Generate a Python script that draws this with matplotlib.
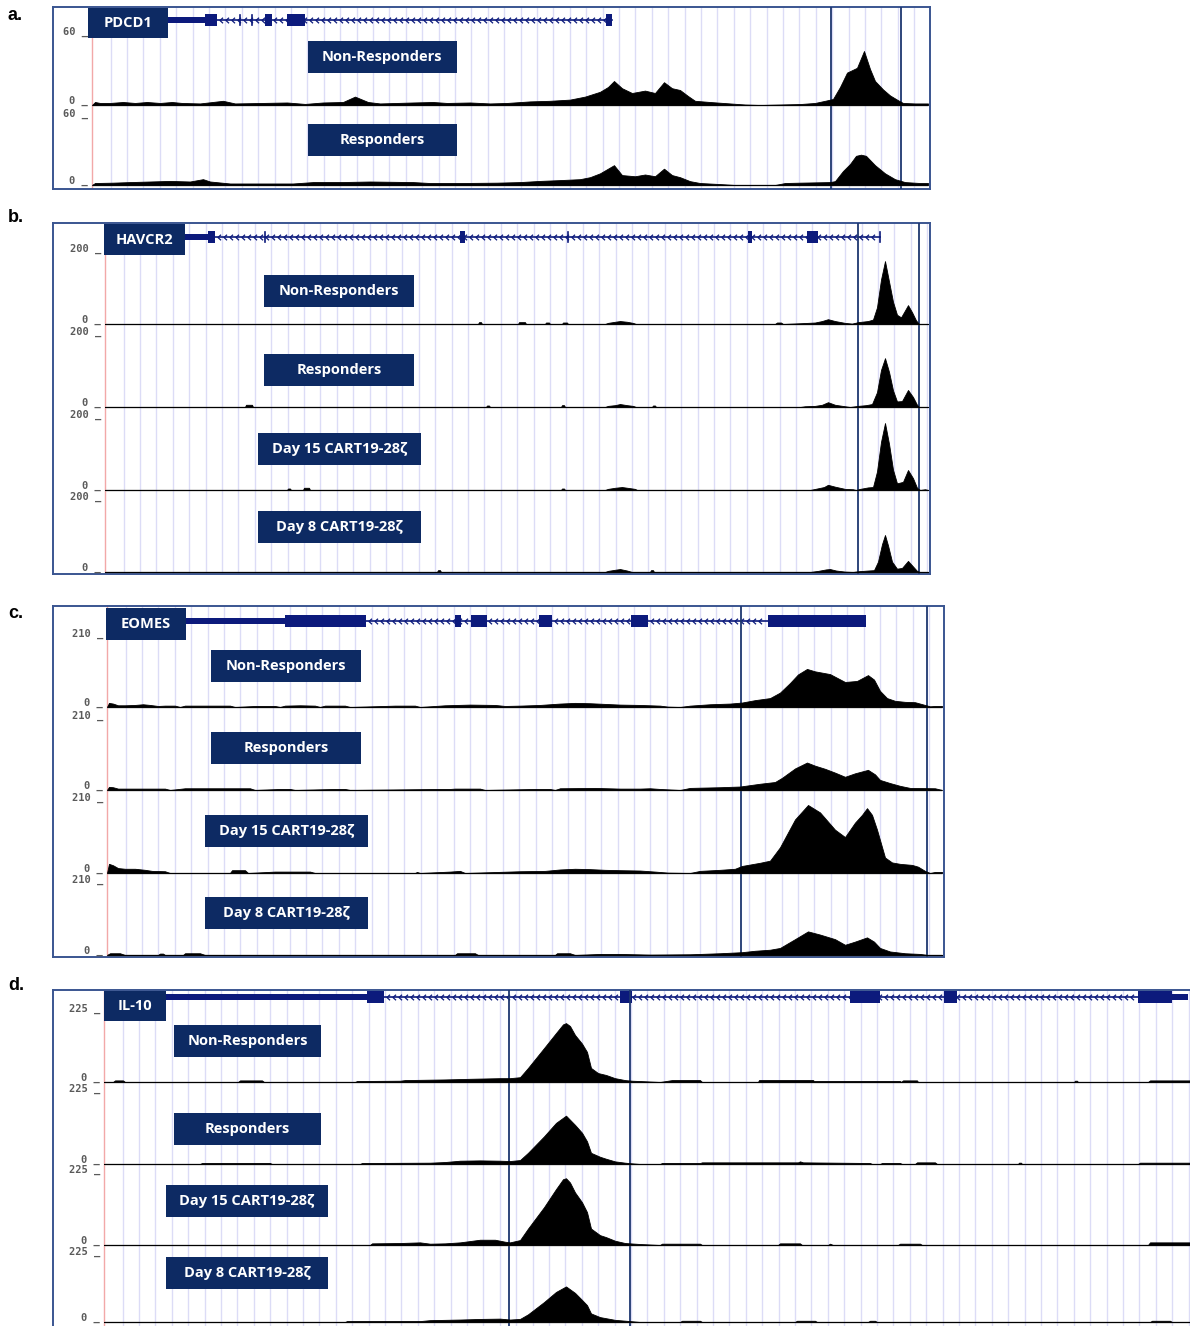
import numpy as np
import matplotlib
matplotlib.use("Agg")
import matplotlib.pyplot as plt
from matplotlib.patches import Rectangle
from matplotlib.path import Path

# ---------------------------------------------------------------------------
# Data: signal tracks (position in window bins, signal value), gene models
# ---------------------------------------------------------------------------
GROUPS_2 = ["Non-Responders", "Responders"]
GROUPS_4 = ["Non-Responders", "Responders", "Day 15 CART19-28ζ", "Day 8 CART19-28ζ"]

# --- a. PDCD1 -------------------------------------------------------------
PDCD1_WINDOW = (92, 928)
PDCD1_YMAX = 60
PDCD1_NR_POS = [92, 95, 100, 110, 123, 135, 147, 160, 172, 182, 200, 223, 235, 262, 287, 305,
                323, 343, 355, 368, 380, 413, 433, 447, 470, 490, 507, 530, 550, 570, 585, 600,
                608, 614, 622, 632, 645, 655, 664, 672, 680, 688, 695, 710, 730, 745, 760, 800,
                815, 825, 833, 840, 847, 857, 864, 870, 875, 883, 890, 898, 903, 915, 928]
PDCD1_NR_VAL = [0, 2.5, 1.7, 1.7, 2.5, 1.7, 2.5, 1.7, 2.5, 1.7, 1.3, 3.5, 1.3, 1.7, 2.1, 0.9,
                2.1, 2.5, 7, 2.5, 1.3, 2.1, 2.5, 1.7, 2.1, 1.3, 1.7, 3, 3.5, 4.5, 7, 11,
                15, 20, 14, 10, 12, 10, 19, 14, 12.5, 7.5, 3.5, 2.5, 1.3, 0.4, 0, 0.8,
                1.7, 3.5, 5, 15, 27, 31, 45, 30, 20, 13, 8, 4, 1.7, 1.3, 1.3]
PDCD1_R_POS = [92, 95, 113, 130, 150, 170, 190, 203, 210, 230, 260, 293, 313, 340, 370, 413,
               430, 460, 497, 520, 540, 560, 580, 590, 600, 614, 622, 635, 645, 655, 664, 672,
               680, 690, 700, 720, 735, 775, 785, 800, 830, 835, 843, 850, 856, 861, 866, 875,
               885, 895, 905, 920, 928]
PDCD1_R_VAL = [0, 1.7, 2, 2.5, 3, 3.5, 3, 5, 3, 1.3, 1.3, 1.3, 2.5, 2.5, 3, 2.5,
               1.7, 1.7, 2, 2.5, 3.5, 4.2, 5, 6.7, 10, 17, 8.5, 7.5, 9, 7.5, 14, 8.5,
               6.7, 3.3, 1.7, 0.8, 0, 0, 1.7, 2, 2.5, 3.3, 12, 18, 25, 26, 25, 17,
               10, 5, 2.5, 1.7, 1.7]
PDCD1_UTR = [(160, 205)]
PDCD1_EXONS = [(205, 217), (265, 272), (287, 305), (606, 612)]
PDCD1_INTRON = (217, 612)
PDCD1_TICKS = [240, 252]
PDCD1_MARKS = [831, 901]

# --- b. HAVCR2 ------------------------------------------------------------
HAVCR2_WINDOW = (105, 928)
HAVCR2_YMAX = 200
HAVCR2_NR_POS = [105, 478, 479, 481, 482, 518, 519, 525, 526, 545, 546, 549, 550, 562, 563, 567,
                 568, 605, 608, 615, 620, 627, 633, 636, 775, 777, 781, 783, 800, 815, 822, 828,
                 835, 845, 852, 858, 868, 873, 877, 881, 885, 889, 893, 897, 901, 904, 908, 912,
                 916, 919, 928]
HAVCR2_NR_VAL = [0, 0, 5, 5, 0, 0, 5, 5, 0, 0, 4, 4, 0, 0, 4, 4,
                 0, 0, 3, 6, 8, 6, 3, 0, 0, 4, 4, 0, 2, 4, 8, 13,
                 8, 3, 1, 5, 8, 12, 45, 120, 170, 115, 60, 25, 18, 32, 51, 32,
                 10, 0, 0]
HAVCR2_R_POS = [105, 245, 246, 252, 253, 486, 487, 489, 490, 561, 562, 564, 565, 605, 608, 615,
                620, 627, 633, 636, 652, 653, 655, 656, 800, 805, 815, 822, 828, 835, 845, 850,
                858, 866, 872, 877, 881, 885, 889, 893, 897, 902, 908, 913, 917, 919, 928]
HAVCR2_R_VAL = [0, 0, 6, 6, 0, 0, 4, 4, 0, 0, 5, 5, 0, 0, 3, 5,
                8, 5, 3, 0, 0, 4, 4, 0, 0, 2, 3, 6, 13, 6, 2, 0,
                3, 5, 8, 40, 100, 132, 95, 45, 15, 16, 46, 27, 6, 0, 0]
HAVCR2_D15_POS = [105, 287, 288, 290, 291, 303, 304, 309, 310, 561, 562, 564, 565, 605, 608, 615,
                  622, 630, 635, 637, 810, 817, 824, 828, 835, 845, 853, 856, 860, 868, 873, 877,
                  881, 885, 889, 893, 897, 903, 908, 913, 917, 920, 925, 928]
HAVCR2_D15_VAL = [0, 0, 4, 4, 0, 0, 6, 6, 0, 0, 4, 4, 0, 0, 3, 6,
                  8, 5, 3, 0, 0, 4, 8, 14, 9, 3, 2, 0, 3, 7, 8, 50,
                  130, 181, 125, 55, 18, 22, 54, 32, 6, 0, 2, 0]
HAVCR2_D8_POS = [105, 437, 438, 440, 441, 605, 608, 615, 620, 627, 632, 650, 651, 653, 654, 810,
                 818, 826, 830, 836, 845, 853, 858, 868, 874, 878, 882, 885, 888, 892, 897, 902,
                 908, 913, 917, 920, 928]
HAVCR2_D8_VAL = [0, 0, 5, 5, 0, 0, 3, 6, 8, 4, 0, 0, 5, 5, 0, 0,
                 3, 7, 8, 4, 1, 0, 2, 4, 5, 28, 75, 100, 72, 28, 9, 11,
                 30, 15, 3, 0, 0]
HAVCR2_UTR = [(185, 208)]
HAVCR2_EXONS = [(208, 215), (460, 465), (748, 752), (807, 818)]
HAVCR2_INTRON = (215, 880)
HAVCR2_TICKS = [265, 568, 880]
HAVCR2_MARKS = [858, 919]

# --- c. EOMES -------------------------------------------------------------
EOMES_WINDOW = (107, 942)
EOMES_YMAX = 210
EOMES_NR_POS = [107, 109, 113, 118, 125, 135, 143, 150, 158, 165, 175, 180, 185, 210, 230, 235,
                255, 275, 280, 285, 300, 315, 320, 325, 345, 350, 395, 415, 420, 445, 470, 495,
                505, 520, 540, 560, 575, 590, 605, 620, 640, 660, 668, 680, 690, 710, 730, 742,
                755, 770, 780, 790, 798, 807, 815, 830, 845, 857, 868, 874, 880, 887, 895, 905,
                915, 925, 930, 935, 942]
EOMES_NR_VAL = [0, 12, 10, 5, 5, 6, 8, 6, 3, 4, 4, 0, 4, 4, 4, 0,
                3, 3, 0, 4, 5, 4, 0, 4, 4, 0, 4, 4, 0, 5, 7, 6,
                3, 4, 6, 10, 12, 11, 9, 7, 6, 4, 1, 0, 4, 8, 10, 13,
                20, 26, 42, 70, 95, 111, 104, 96, 73, 76, 93, 80, 47, 26, 18, 15,
                14, 6, 2, 3, 3]
EOMES_R_POS = [107, 109, 113, 118, 165, 170, 185, 250, 255, 280, 290, 295, 335, 345, 350, 440,
               450, 455, 480, 485, 535, 550, 555, 560, 595, 620, 640, 650, 660, 680, 690, 720,
               740, 760, 775, 782, 795, 807, 815, 825, 835, 845, 855, 868, 875, 880, 890, 900,
               910, 935, 942]
EOMES_R_VAL = [0, 9, 8, 4, 4, 0, 5, 5, 0, 3, 3, 0, 3, 3, 0, 3,
               3, 4, 4, 0, 3, 3, 0, 5, 6, 4, 4, 5, 3, 0, 6, 8,
               10, 18, 23, 35, 62, 79, 70, 61, 50, 38, 48, 58, 45, 29, 20, 12,
               6, 5, 0]
EOMES_D15_POS = [107, 109, 113, 118, 125, 135, 145, 152, 165, 170, 230, 232, 245, 248, 275, 310,
                 315, 415, 417, 420, 450, 460, 465, 520, 545, 560, 575, 590, 605, 620, 640, 655,
                 668, 690, 700, 720, 735, 742, 760, 770, 780, 795, 808, 820, 835, 845, 855, 862,
                 867, 872, 877, 885, 892, 900, 912, 918, 925, 930, 935, 942]
EOMES_D15_VAL = [0, 26, 22, 14, 12, 12, 9, 6, 5, 0, 0, 8, 8, 0, 4, 4,
                 0, 0, 3, 0, 4, 6, 0, 5, 6, 10, 12, 11, 9, 8, 7, 4,
                 1, 0, 6, 9, 12, 20, 29, 35, 73, 152, 193, 172, 123, 102, 143, 165,
                 184, 165, 123, 44, 30, 26, 23, 18, 6, 0, 3, 3]
EOMES_D8_POS = [107, 110, 120, 125, 158, 160, 163, 165, 183, 185, 200, 205, 455, 457, 475, 478,
                555, 557, 570, 575, 600, 620, 650, 690, 720, 742, 755, 770, 780, 795, 808, 820,
                835, 845, 855, 867, 874, 880, 890, 905, 920, 928, 942]
EOMES_D8_VAL = [0, 5, 5, 0, 0, 4, 4, 0, 0, 5, 5, 0, 0, 5, 5, 0,
                0, 5, 5, 0, 3, 3, 1, 2, 5, 8, 12, 15, 20, 45, 67, 58,
                45, 29, 38, 50, 38, 20, 10, 5, 3, 0, 0]
EOMES_UTR = [(186, 285)]
EOMES_EXONS = [(285, 366), (455, 461), (471, 487), (539, 552), (631, 648), (768, 866)]
EOMES_INTRON = (366, 768)
EOMES_TICKS = []
EOMES_MARKS = [741, 927]

# --- d. IL-10 -------------------------------------------------------------
IL10_WINDOW = (104, 1190)
IL10_YMAX = 225
IL10_NR_POS = [104, 113, 115, 123, 125, 238, 240, 262, 264, 355, 357, 400, 405, 425, 445, 470,
               485, 500, 510, 520, 528, 544, 556, 563, 566, 570, 575, 582, 587, 591, 598, 606,
               615, 625, 632, 640, 660, 672, 700, 702, 758, 759, 813, 814, 900, 901, 903, 917,
               918, 1074, 1075, 1077, 1078, 1148, 1150, 1190]
IL10_NR_VAL = [0, 0, 5, 5, 0, 0, 5, 5, 0, 0, 3, 4, 6, 7, 8, 10,
               11, 12, 12, 15, 44, 106, 153, 180, 184, 175, 147, 120, 94, 44, 28, 22,
               12, 6, 4, 3, 0, 6, 6, 0, 0, 6, 6, 3, 3, 0, 5, 5,
               0, 0, 4, 4, 0, 0, 5, 5]
IL10_R_POS = [104, 200, 202, 270, 272, 360, 362, 430, 445, 460, 480, 500, 510, 520, 528, 544,
              556, 566, 575, 582, 587, 591, 600, 606, 615, 625, 632, 640, 660, 662, 700, 702,
              798, 800, 803, 870, 872, 880, 882, 900, 902, 915, 917, 935, 937, 1018, 1019, 1021,
              1022, 1138, 1140, 1190]
IL10_R_VAL = [0, 0, 3, 3, 0, 0, 3, 4, 6, 10, 11, 10, 9, 12, 34, 84,
              125, 147, 119, 95, 69, 34, 22, 16, 8, 4, 2, 0, 0, 3, 3, 5,
              5, 8, 5, 3, 0, 0, 3, 3, 0, 0, 5, 5, 0, 0, 4, 4,
              0, 0, 4, 4]
IL10_D15_POS = [104, 370, 372, 400, 420, 430, 445, 460, 470, 480, 495, 505, 510, 520, 528, 544,
                556, 563, 566, 570, 575, 582, 587, 591, 600, 606, 615, 625, 640, 660, 662, 700,
                702, 778, 780, 800, 802, 828, 830, 833, 898, 900, 920, 922, 1148, 1150, 1190]
IL10_D15_VAL = [0, 0, 5, 6, 8, 4, 5, 8, 12, 16, 16, 10, 8, 15, 50, 115,
                170, 200, 203, 190, 160, 130, 100, 50, 30, 24, 13, 6, 3, 0, 4, 4,
                0, 0, 5, 5, 0, 0, 4, 0, 0, 4, 4, 0, 0, 8, 8]
IL10_D8_POS = [104, 345, 347, 420, 430, 460, 480, 500, 510, 520, 528, 544, 556, 566, 575, 582,
               587, 591, 600, 615, 630, 640, 680, 682, 700, 702, 795, 797, 815, 817, 868, 870,
               875, 877, 1150, 1152, 1170, 1172, 1190]
IL10_D8_VAL = [0, 0, 3, 3, 6, 8, 10, 11, 8, 10, 25, 65, 98, 116, 95, 72,
               55, 28, 16, 7, 3, 0, 0, 4, 4, 0, 0, 4, 4, 0, 0, 4,
               4, 0, 0, 4, 4, 0, 0]
IL10_UTR = [(160, 367), (1172, 1188)]
IL10_EXONS = [(367, 384), (620, 632), (850, 880), (944, 957), (1138, 1172)]
IL10_INTRON = (384, 1138)
IL10_TICKS = []
IL10_MARKS = [509, 630]

# ---------------------------------------------------------------------------
# Styling
# ---------------------------------------------------------------------------
W, H, DPI = 1190, 1326, 100
NAVY = "#0d2a63"
GENE_BLUE = "#0c1a7c"
FRAME = "#3a5590"
MARK = "#1e3770"
GRID = "#dcdcf6"
PINK = "#f2a8a8"
LABEL_FONT = ["Open Sans", "DejaVu Sans"]
SCALE_COLOR = "#5a5a5a"

fig = plt.figure(figsize=(W / DPI, H / DPI), dpi=DPI)
fig.patch.set_facecolor("white")


def px_axes(left, top, right, bottom, **kw):
    return fig.add_axes([left / W, 1 - bottom / H, (right - left) / W, (bottom - top) / H], **kw)


chevron = Path([(0.55, 1.0), (-0.55, 0.0), (0.55, -1.0)],
               [Path.MOVETO, Path.LINETO, Path.LINETO])

panels = [
    dict(letter="a.", letter_y=16, gene="PDCD1", box=(53, 7, 930, 189), name_box=(88, 8, 168, 38),
         gene_y=20, window=PDCD1_WINDOW, ymax=PDCD1_YMAX,
         tracks=[(33, 105), (115, 185)],
         signals=[(PDCD1_NR_POS, PDCD1_NR_VAL), (PDCD1_R_POS, PDCD1_R_VAL)],
         groups=GROUPS_2, label_boxes=[(382, 57, 149), (382, 140, 149)],
         utr=PDCD1_UTR, exons=PDCD1_EXONS, intron=PDCD1_INTRON, ticks=PDCD1_TICKS,
         marks=PDCD1_MARKS, open_edges=False),
    dict(letter="b.", letter_y=218, gene="HAVCR2", box=(53, 223, 930, 574), name_box=(104, 224, 185, 255),
         gene_y=237, window=HAVCR2_WINDOW, ymax=HAVCR2_YMAX,
         tracks=[(250, 324), (333, 407), (416, 490), (498, 572)],
         signals=[(HAVCR2_NR_POS, HAVCR2_NR_VAL), (HAVCR2_R_POS, HAVCR2_R_VAL),
                  (HAVCR2_D15_POS, HAVCR2_D15_VAL), (HAVCR2_D8_POS, HAVCR2_D8_VAL)],
         groups=GROUPS_4, label_boxes=[(339, 291, 150), (339, 370, 150), (339.5, 449, 163), (339.5, 527, 163)],
         utr=HAVCR2_UTR, exons=HAVCR2_EXONS, intron=HAVCR2_INTRON, ticks=HAVCR2_TICKS,
         marks=HAVCR2_MARKS, open_edges=False),
    dict(letter="c.", letter_y=613, gene="EOMES", box=(53, 606, 944, 957), name_box=(106, 608, 186, 640),
         gene_y=621, window=EOMES_WINDOW, ymax=EOMES_YMAX,
         tracks=[(635, 707), (717, 790), (799, 873), (881, 955)],
         signals=[(EOMES_NR_POS, EOMES_NR_VAL), (EOMES_R_POS, EOMES_R_VAL),
                  (EOMES_D15_POS, EOMES_D15_VAL), (EOMES_D8_POS, EOMES_D8_VAL)],
         groups=GROUPS_4, label_boxes=[(286, 666, 150), (286, 748, 150), (286.5, 831, 163), (286.5, 913, 163)],
         utr=EOMES_UTR, exons=EOMES_EXONS, intron=EOMES_INTRON, ticks=EOMES_TICKS,
         marks=EOMES_MARKS, open_edges=False),
    dict(letter="d.", letter_y=985, gene="IL-10", box=(53, 990, 1196, 1332), name_box=(104, 991, 166, 1021),
         gene_y=997, window=IL10_WINDOW, ymax=IL10_YMAX,
         tracks=[(1010, 1082), (1090, 1164), (1171, 1245), (1253, 1322)],
         signals=[(IL10_NR_POS, IL10_NR_VAL), (IL10_R_POS, IL10_R_VAL),
                  (IL10_D15_POS, IL10_D15_VAL), (IL10_D8_POS, IL10_D8_VAL)],
         groups=GROUPS_4, label_boxes=[(247.5, 1041, 147), (247.5, 1128.5, 147), (247, 1200.5, 162), (247, 1272.5, 162)],
         utr=IL10_UTR, exons=IL10_EXONS, intron=IL10_INTRON, ticks=IL10_TICKS,
         marks=IL10_MARKS, open_edges=True),
]

for p in panels:
    bl, bt, br, bb = p["box"]
    x0, x1 = p["window"]

    # panel frame with grid, gene model and group labels
    fr = px_axes(bl, bt, br, bb)
    fr.set_xlim(bl, br)
    fr.set_ylim(bb, bt)
    fr.set_xticks([])
    fr.set_yticks([])
    for side, sp in fr.spines.items():
        sp.set_color(FRAME)
        sp.set_linewidth(1.4)
    if p["open_edges"]:
        fr.spines["right"].set_visible(False)
        fr.spines["bottom"].set_visible(False)

    for gx in np.arange(x0 + 18.5, x1, 16.4):
        fr.axvline(gx, color=GRID, lw=1.0, zorder=1)
    fr.axvline(x0, color=PINK, lw=1.0, zorder=1)
    for mx in p["marks"]:
        fr.axvline(mx, color=MARK, lw=1.3, zorder=6)

    gy = p["gene_y"]
    a0, a1 = p["intron"]
    fr.plot([a0, a1], [gy, gy], color=GENE_BLUE, lw=1.2, zorder=3)
    chev_x = np.arange(a0 + 4, a1 - 2, 6)
    fr.plot(chev_x, np.full(len(chev_x), gy),
            ls="none", marker=chevron, ms=4, mew=0.9, mfc="none", mec=GENE_BLUE, zorder=3)
    for s, e in p["utr"]:
        fr.add_patch(Rectangle((s, gy - 3), e - s, 6, color=GENE_BLUE, lw=0, zorder=3))
    for s, e in p["exons"]:
        fr.add_patch(Rectangle((s, gy - 6), e - s, 12, color=GENE_BLUE, lw=0, zorder=3))
    for t in p["ticks"]:
        fr.plot([t, t], [gy - 5, gy + 5], color=GENE_BLUE, lw=1.2, zorder=3)

    nl, nt, nr, nb = p["name_box"]
    fr.add_patch(Rectangle((nl, nt), nr - nl, nb - nt, color=NAVY, lw=0, zorder=5))
    fr.text((nl + nr) / 2, (nt + nb) / 2, p["gene"], color="white", fontsize=10.5,
            fontweight="bold", family=LABEL_FONT, ha="center", va="center", zorder=6)

    for (cx, cy, bw), grp in zip(p["label_boxes"], p["groups"]):
        fr.add_patch(Rectangle((cx - bw / 2, cy - 16), bw, 32, color=NAVY, lw=0, zorder=5))
        fr.text(cx, cy, grp, color="white", fontsize=10.5, fontweight="bold",
                family=LABEL_FONT, ha="center", va="center", zorder=6)

    # scale labels for each track
    for top, base in p["tracks"]:
        fr.text(x0 - 4, top - 1, f"{p['ymax']} _", family="DejaVu Sans Mono", fontsize=7.5,
                fontweight="bold", color=SCALE_COLOR, ha="right", va="center", zorder=6)
        fr.text(x0 - 4, base - 4, "0 _", family="DejaVu Sans Mono", fontsize=7.5,
                fontweight="bold", color=SCALE_COLOR, ha="right", va="center", zorder=6)

    fig.text(8 / W, 1 - p["letter_y"] / H, p["letter"], fontsize=13, fontweight="bold",
             family="Liberation Sans", ha="left", va="center")

    # coverage tracks
    for (top, base), (pos, val) in zip(p["tracks"], p["signals"]):
        ax = px_axes(x0, top, x1, base)
        ax.set_xlim(x0, x1)
        ax.set_ylim(0, p["ymax"])
        ax.patch.set_visible(False)
        ax.axis("off")
        ax.plot([x0, x1], [0, 0], color="#4a4a4a", lw=1.0, zorder=2,
                clip_on=False, solid_capstyle="butt")
        ax.fill_between(pos, val, 0, color="black", lw=0.6, zorder=3)

fig.savefig("out.png", dpi=DPI, facecolor="white")
